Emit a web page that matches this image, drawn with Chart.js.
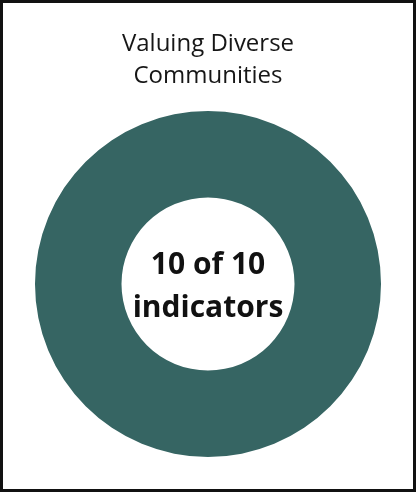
<!DOCTYPE html>
<html>
<head>
<meta charset="utf-8">
<script src="https://cdn.jsdelivr.net/npm/chart.js@4"></script>
<style>
  html, body { margin: 0; padding: 0; background: #fff; }
  #wrap { width: 416px; height: 492px; box-sizing: border-box; border: 3px solid #111; position: relative; }
  #wrap canvas { display: block; }
</style>
</head>
<body>
<div id="wrap"><canvas id="c" width="410" height="486"></canvas></div>
<script>
const titleLines = ['Valuing Diverse', 'Communities'];
const categories = ['Indicators met', 'Indicators not met'];
const values = [10, 0];
const totalIndicators = 10;
const centerLines = [values[0] + ' of ' + totalIndicators, 'indicators'];
const colors = ['#366563', '#e6e6e6'];

const centerText = {
  id: 'centerText',
  afterDraw(chart) {
    const meta = chart.getDatasetMeta(0);
    const arc = meta.data[0];
    if (!arc) return;
    const ctx = chart.ctx;
    ctx.save();
    ctx.fillStyle = '#111';
    ctx.font = 'bold 30px "Open Sans"';
    ctx.textAlign = 'center';
    ctx.textBaseline = 'alphabetic';
    ctx.fillText(centerLines[0], arc.x, arc.y - 10);
    ctx.fillText(centerLines[1], arc.x, arc.y + 33);
    ctx.restore();
  }
};

new Chart(document.getElementById('c'), {
  type: 'doughnut',
  data: {
    labels: categories,
    datasets: [{ data: values, backgroundColor: colors, borderWidth: 0 }]
  },
  options: {
    responsive: false,
    animation: false,
    cutout: '50%',
    layout: { padding: { top: 0, bottom: 32, left: 0, right: 0 } },
    plugins: {
      legend: { display: false },
      tooltip: { enabled: false },
      title: {
        display: true,
        text: titleLines,
        color: '#161616',
        font: { family: 'Open Sans', size: 24, weight: 'normal', lineHeight: 1.333 },
        padding: { top: 25, bottom: 19 }
      }
    }
  },
  plugins: [centerText]
});
</script>
</body>
</html>
